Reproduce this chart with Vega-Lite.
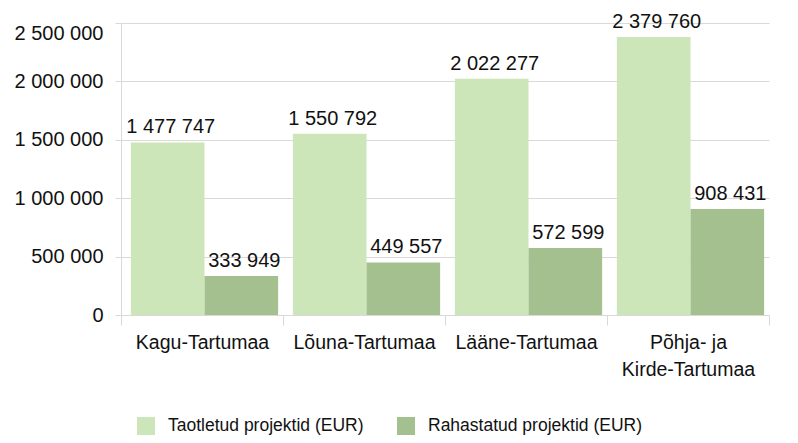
{
  "$schema": "https://vega.github.io/schema/vega-lite/v6.json",
  "width": 648,
  "height": 292,
  "autosize": {"type": "none"},
  "padding": {"left": 121, "top": 23, "right": 29, "bottom": 128},
  "background": "white",
  "config": {
    "locale": {"number": {"decimal": ",", "thousands": " ", "grouping": [3], "currency": ["", " €"]}},
    "view": {"stroke": null},
    "font": "Liberation Sans"
  },
  "data": {
    "values": [
      {"region": "Kagu-Tartumaa", "series": "Taotletud projektid (EUR)", "value": 1477747},
      {"region": "Kagu-Tartumaa", "series": "Rahastatud projektid (EUR)", "value": 333949},
      {"region": "Lõuna-Tartumaa", "series": "Taotletud projektid (EUR)", "value": 1550792},
      {"region": "Lõuna-Tartumaa", "series": "Rahastatud projektid (EUR)", "value": 449557},
      {"region": "Lääne-Tartumaa", "series": "Taotletud projektid (EUR)", "value": 2022277},
      {"region": "Lääne-Tartumaa", "series": "Rahastatud projektid (EUR)", "value": 572599},
      {"region": "Põhja- ja Kirde-Tartumaa", "series": "Taotletud projektid (EUR)", "value": 2379760},
      {"region": "Põhja- ja Kirde-Tartumaa", "series": "Rahastatud projektid (EUR)", "value": 908431}
    ]
  },
  "encoding": {
    "x": {
      "field": "region",
      "type": "nominal",
      "sort": null,
      "scale": {"paddingInner": 0, "paddingOuter": 0},
      "axis": {
        "title": null,
        "labelAngle": 0,
        "grid": false,
        "tickBand": "extent",
        "domainColor": "#d9d9d9",
        "tickColor": "#d9d9d9",
        "tickSize": 10,
        "labelPadding": 8,
        "labelFontSize": 19.5,
        "labelColor": "#111111",
        "labelLineHeight": 27,
        "labelBaseline": "top",
        "labelLimit": 300,
        "labelExpr": "datum.value == 'Põhja- ja Kirde-Tartumaa' ? ['Põhja- ja', 'Kirde-Tartumaa'] : datum.value"
      }
    },
    "xOffset": {
      "field": "series",
      "type": "nominal",
      "sort": ["Taotletud projektid (EUR)", "Rahastatud projektid (EUR)"],
      "scale": {"paddingInner": 0, "paddingOuter": 0.1, "align": 0.67}
    },
    "y": {
      "field": "value",
      "type": "quantitative",
      "scale": {"domain": [0, 2500000], "nice": false},
      "axis": {
        "title": null,
        "values": [0, 500000, 1000000, 1500000, 2000000, 2500000],
        "format": ",d",
        "gridColor": "#d9d9d9",
        "domainColor": "#d9d9d9",
        "tickColor": "#d9d9d9",
        "tickSize": 6,
        "labelPadding": 12,
        "labelFontSize": 20,
        "labelColor": "#111111",
        "labelBaseline": {"expr": "datum.value == 2500000 ? 'top' : 'middle'"}
      }
    }
  },
  "layer": [
    {
      "mark": {"type": "bar"},
      "encoding": {
        "color": {
          "field": "series",
          "type": "nominal",
          "sort": ["Taotletud projektid (EUR)", "Rahastatud projektid (EUR)"],
          "scale": {"range": ["#cde6b9", "#a4c08f"]},
          "legend": {
            "title": null,
            "orient": "none",
            "legendX": 16,
            "legendY": 394,
            "direction": "horizontal",
            "symbolType": "square",
            "symbolSize": 324,
            "symbolStrokeWidth": 0,
            "labelFontSize": 17.5,
            "labelColor": "#111111",
            "labelOffset": 13,
            "columnPadding": 33,
            "labelLimit": 300,
            "padding": 0
          }
        }
      }
    },
    {
      "mark": {"type": "text", "baseline": "alphabetic", "dy": -9, "dx": 3, "fontSize": 20, "color": "#111111"},
      "encoding": {
        "text": {"field": "value", "type": "quantitative", "format": ",d"}
      }
    }
  ]
}
